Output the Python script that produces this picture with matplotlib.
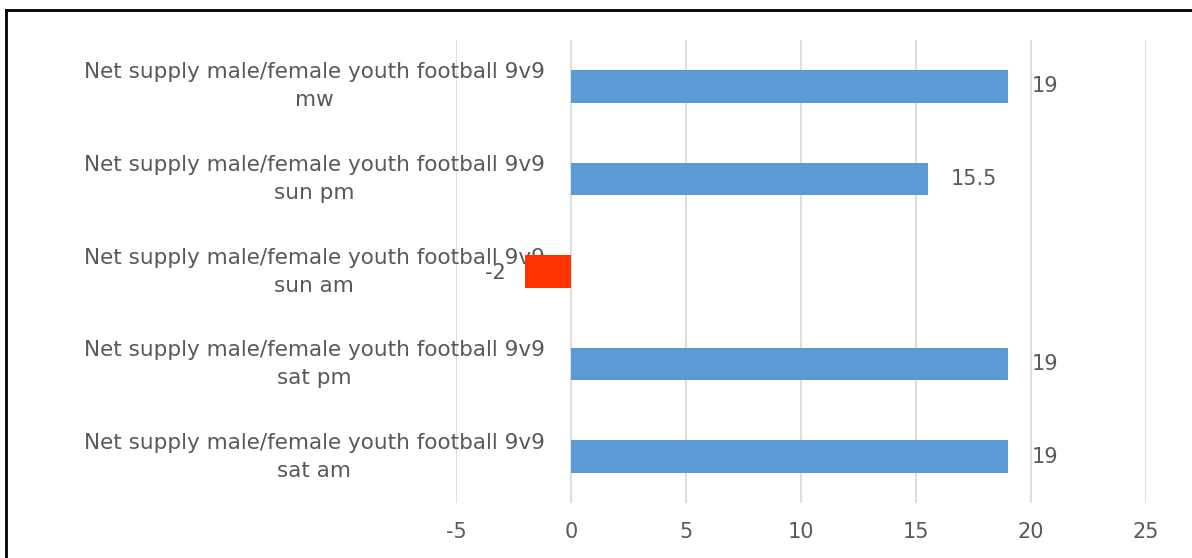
import matplotlib
matplotlib.use("Agg")
import matplotlib.pyplot as plt
from matplotlib.lines import Line2D

categories = [
    "Net supply male/female youth football 9v9\nsat am",
    "Net supply male/female youth football 9v9\nsat pm",
    "Net supply male/female youth football 9v9\nsun am",
    "Net supply male/female youth football 9v9\nsun pm",
    "Net supply male/female youth football 9v9\nmw",
]
values = [19, 19, -2, 15.5, 19]
value_labels = ["19", "19", "-2", "15.5", "19"]
xticks = [-5, 0, 5, 10, 15, 20, 25]

BLUE = "#5B9BD5"
RED = "#FF3300"
TXT = "#595959"

fig = plt.figure(figsize=(11.92, 5.58), dpi=100)
ax = fig.add_axes([456/1192, 1-503/558, (1146-456)/1192, (503-40)/558])

colors = [RED if v < 0 else BLUE for v in values]
ypos = list(range(len(categories)))
bars = ax.barh(ypos, values, height=0.35, color=colors, zorder=3)

ax.set_xlim(-5, 25)
ax.set_ylim(-0.5, len(categories) - 0.5)
ax.set_xticks(xticks)
ax.set_xticklabels([str(t) for t in xticks], fontsize=15, color=TXT)
ax.tick_params(axis="x", length=0, pad=14)
ax.grid(axis="x", color="#D9D9D9", linewidth=1.2, zorder=0)

for s in ["top", "right", "bottom"]:
    ax.spines[s].set_visible(False)
ax.spines["left"].set_position(("data", 0))
ax.spines["left"].set_visible(False)
ax.set_yticks(ypos)
ax.set_yticklabels(categories, fontsize=15.5, color=TXT, multialignment="center",
                   linespacing=1.5)
for lbl in ax.get_yticklabels():
    lbl.set_va("center")
ax.tick_params(axis="y", length=0, pad=19)

for b, v, lab in zip(bars, values, value_labels):
    yc = b.get_y() + b.get_height() / 2
    if v >= 0:
        ax.annotate(lab, (v, yc), xytext=(17, 0), textcoords="offset points",
                    ha="left", va="center", fontsize=15, color=TXT)
    else:
        ax.annotate(lab, (v, yc), xytext=(-14, -1), textcoords="offset points",
                    ha="right", va="center", fontsize=15, color=TXT)

# outer frame (partially cropped in reference)
fig.add_artist(Line2D([6/1192, 1], [1-10/558, 1-10/558], transform=fig.transFigure,
                      color="black", linewidth=2))
fig.add_artist(Line2D([6/1192, 6/1192], [0, 1-10/558], transform=fig.transFigure,
                      color="black", linewidth=2))

fig.savefig("out.png", dpi=100)
